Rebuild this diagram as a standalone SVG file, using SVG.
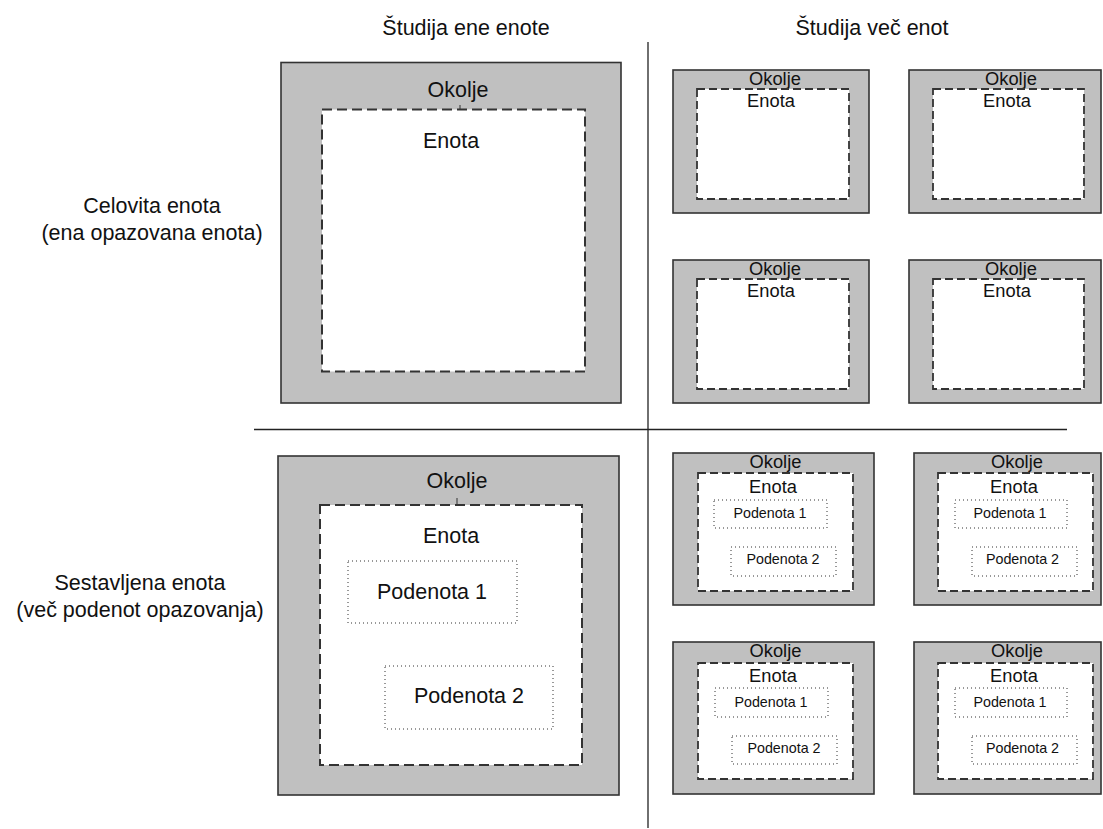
<svg xmlns="http://www.w3.org/2000/svg" width="1103" height="829" viewBox="0 0 1103 829">
  <style>
    text { font-family: "Liberation Sans", Arial, sans-serif; fill: #111; text-anchor: middle; }
    .lbl { font-size: 21.5px; }
    .big { font-size: 21.5px; }
    .mid { font-size: 18.3px; }
    .sm { font-size: 14.3px; }
    .env { fill: #c0c0c0; stroke: #333; stroke-width: 1.6; }
    .unit { fill: #fff; stroke: #333; stroke-width: 2; stroke-dasharray: 10 5; }
    .unitS { fill: #fff; stroke: #333; stroke-width: 1.8; stroke-dasharray: 8 4; }
    .sub { fill: none; stroke: #333; stroke-width: 1; stroke-dasharray: 1 3; }
    .div { stroke: #222; stroke-width: 1.3; fill: none; }
    .tick { stroke: #333; stroke-width: 1; }
  </style>

  <!-- column and row headings -->
  <g id="headings">
    <text class="lbl" x="466" y="35">Študija ene enote</text>
    <text class="lbl" x="872" y="35">Študija več enot</text>
    <text class="lbl" x="152" y="213">Celovita enota</text>
    <text class="lbl" x="152" y="240">(ena opazovana enota)</text>
    <text class="lbl" x="140" y="590">Sestavljena enota</text>
    <text class="lbl" x="140" y="617">(več podenot opazovanja)</text>
  </g>

  <!-- quadrant dividers -->
  <g id="dividers">
    <line class="div" x1="648" y1="42" x2="648" y2="828"/>
    <line class="div" x1="254" y1="429.5" x2="1067" y2="429.5"/>
  </g>

  <!-- single holistic unit -->
  <g id="single-holistic">
    <rect class="env" x="281" y="62.5" width="340" height="340.5"/>
    <text class="big" x="458" y="97">Okolje</text>
    <line class="tick" x1="460" y1="105" x2="460" y2="109"/>
    <rect class="unit" x="322" y="109.5" width="263" height="262"/>
    <text class="big" x="451" y="147.5">Enota</text>
  </g>

  <!-- multiple holistic units -->
  <g id="multi-holistic-1">
    <rect class="env" x="673" y="70" width="196" height="143"/>
    <text class="mid" x="775" y="85">Okolje</text>
    <rect class="unitS" x="697" y="89" width="152" height="110"/>
    <text class="mid" x="771" y="107">Enota</text>
  </g>
  <g id="multi-holistic-2">
    <rect class="env" x="909" y="70" width="192" height="143"/>
    <text class="mid" x="1011" y="85">Okolje</text>
    <rect class="unitS" x="933" y="89" width="151" height="110"/>
    <text class="mid" x="1007" y="107">Enota</text>
  </g>
  <g id="multi-holistic-3">
    <rect class="env" x="673" y="260" width="196" height="143"/>
    <text class="mid" x="775" y="275">Okolje</text>
    <rect class="unitS" x="697" y="279" width="152" height="110"/>
    <text class="mid" x="771" y="297">Enota</text>
  </g>
  <g id="multi-holistic-4">
    <rect class="env" x="909" y="260" width="192" height="143"/>
    <text class="mid" x="1011" y="275">Okolje</text>
    <rect class="unitS" x="933" y="279" width="151" height="110"/>
    <text class="mid" x="1007" y="297">Enota</text>
  </g>

  <!-- single embedded unit -->
  <g id="single-embedded">
    <rect class="env" x="278" y="456" width="341" height="339"/>
    <text class="big" x="457" y="488">Okolje</text>
    <line class="tick" x1="457" y1="498" x2="457" y2="505"/>
    <rect class="unit" x="320" y="505" width="262" height="260"/>
    <text class="big" x="451" y="543">Enota</text>
    <rect class="sub" x="348" y="561" width="169" height="62"/>
    <text class="big" x="432" y="599">Podenota 1</text>
    <rect class="sub" x="385" y="666" width="168" height="63"/>
    <text class="big" x="469" y="703">Podenota 2</text>
  </g>

  <!-- multiple embedded units -->
  <g id="multi-embedded-1">
    <rect class="env" x="673" y="453" width="201" height="152"/>
    <text class="mid" x="775.5" y="468">Okolje</text>
    <rect class="unitS" x="698" y="473" width="155" height="118"/>
    <text class="mid" x="773" y="493">Enota</text>
    <rect class="sub" x="714" y="500" width="113" height="28"/>
    <text class="sm" x="770" y="518">Podenota 1</text>
    <rect class="sub" x="731" y="547" width="105" height="29"/>
    <text class="sm" x="783" y="564">Podenota 2</text>
  </g>
  <g id="multi-embedded-2">
    <rect class="env" x="914" y="453" width="187" height="152"/>
    <text class="mid" x="1017" y="468">Okolje</text>
    <rect class="unitS" x="938" y="473" width="155" height="118"/>
    <text class="mid" x="1014" y="493">Enota</text>
    <rect class="sub" x="955" y="500" width="112" height="28"/>
    <text class="sm" x="1010" y="518">Podenota 1</text>
    <rect class="sub" x="972" y="547" width="105" height="29"/>
    <text class="sm" x="1022.5" y="564">Podenota 2</text>
  </g>
  <g id="multi-embedded-3">
    <rect class="env" x="673" y="642" width="201" height="152"/>
    <text class="mid" x="775.5" y="657">Okolje</text>
    <rect class="unitS" x="698" y="663" width="155" height="116"/>
    <text class="mid" x="773" y="682">Enota</text>
    <rect class="sub" x="715" y="688" width="113" height="29"/>
    <text class="sm" x="771" y="707">Podenota 1</text>
    <rect class="sub" x="732" y="736" width="105" height="28"/>
    <text class="sm" x="784" y="753">Podenota 2</text>
  </g>
  <g id="multi-embedded-4">
    <rect class="env" x="914" y="642" width="187" height="152"/>
    <text class="mid" x="1017" y="657">Okolje</text>
    <rect class="unitS" x="938" y="663" width="155" height="116"/>
    <text class="mid" x="1014" y="682">Enota</text>
    <rect class="sub" x="955" y="688" width="112" height="29"/>
    <text class="sm" x="1010" y="707">Podenota 1</text>
    <rect class="sub" x="972" y="736" width="105" height="28"/>
    <text class="sm" x="1022.5" y="753">Podenota 2</text>
  </g>
</svg>
